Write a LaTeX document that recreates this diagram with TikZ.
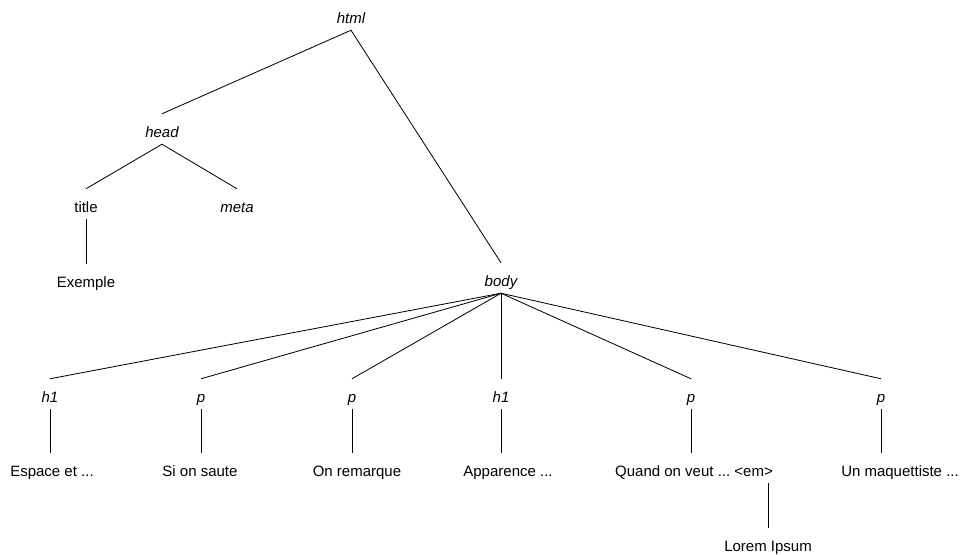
\documentclass[tikz,border=0pt]{standalone}
\usepackage{fontspec}
\setmainfont{Liberation Sans}
\usepackage{tikz}
\frenchspacing

\tikzset{
  elt/.style={anchor=base, inner xsep=0pt, inner ysep=0.09cm, text height=0.6cm, text depth=0.12cm, font=\fontsize{12.8}{15}\selectfont\itshape},
  txt/.style={elt, font=\fontsize{12.8}{15}\selectfont},
  branch/.style={line width=0.7pt}
}

\begin{document}
\begin{tikzpicture}[x=0.03cm, y=-0.03cm]
\useasboundingbox (0,0) rectangle (961,554);
\node[elt] (html) at (351,23) {html};
\node[elt] (head) at (162,137) {head};
\node[txt] (title) at (86,212) {title};
\node[elt] (meta) at (237,212) {meta};
\node[txt] (exemple) at (86,287) {Exemple};
\node[elt] (body) at (501,286) {body};
% children of body
\node[elt] (h1a) at (50,402) {h1};
\node[elt] (pa) at (201,402) {p};
\node[elt] (pb) at (352,402) {p};
\node[elt] (h1b) at (501,402) {h1};
\node[elt] (pc) at (691,402) {p};
\node[elt] (pd) at (881,402) {p};
\node[txt] (espace) at (52,476) {Espace et ...};
\node[txt] (sisaute) at (200,476) {Si on saute};
\node[txt] (remarque) at (357,476) {On remarque};
\node[txt] (apparence) at (508,476) {Apparence ...};
\node[txt] (quand) at (694,476) {Quand on veut ... <em>};
\node[txt] (maquette) at (900,476) {Un maquettiste ...};
\node[txt] (lorem) at (768,551) {Lorem Ipsum};
\draw[branch] (head.north) -- (html.south) -- (body.north);
\draw[branch] (title.north) -- (head.south) -- (meta.north);
\draw[branch] (title.south) -- (title.south |- exemple.north);
\foreach \c in {h1a,pa,pb,h1b,pc,pd}
  \draw[branch] (body.south) -- (\c.north);
\draw[branch] (h1a.south) -- (h1a.south |- espace.north);
\draw[branch] (pa.south) -- (pa.south |- sisaute.north);
\draw[branch] (pb.south) -- (pb.south |- remarque.north);
\draw[branch] (h1b.south) -- (h1b.south |- apparence.north);
\draw[branch] (pc.south) -- (pc.south |- quand.north);
\draw[branch] (pd.south) -- (pd.south |- maquette.north);
\draw[branch] (lorem.north) -- (lorem.north |- quand.south);
\end{tikzpicture}
\end{document}
